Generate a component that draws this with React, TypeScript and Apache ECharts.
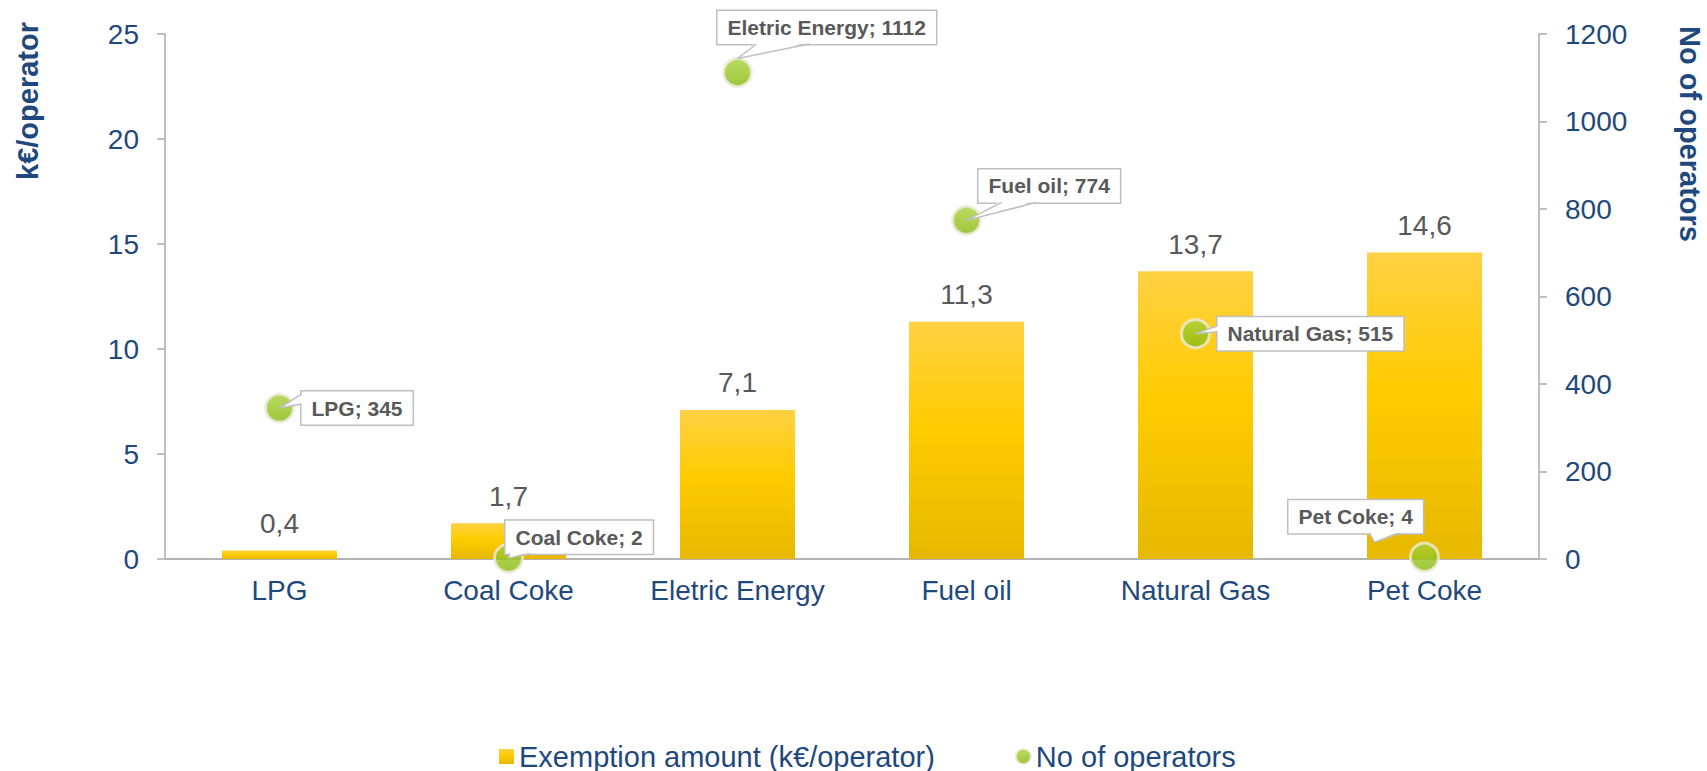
import React, { useEffect, useRef } from "react";
import * as echarts from "echarts";

const categories = ["LPG", "Coal Coke", "Eletric Energy", "Fuel oil", "Natural Gas", "Pet Coke"];
const exemptionAmount = [0.4, 1.7, 7.1, 11.3, 13.7, 14.6];
const operatorCounts = [345, 2, 1112, 774, 515, 4];

const barName = "Exemption amount (k€/operator)";
const scatterName = "No of operators";
const leftAxisTitle = "k€/operator";
const rightAxisTitle = "No of operators";

// callout layout, pixels relative to the point (box left edge, box centre y, tail base, tail apex, inward shift)
const calloutLayout = [
  { bx: 22, by: 0, b1: [22, -14], b2: [22, -4], apex: [0, 0], inw: [2, 0] },
  { bx: -3, by: -21, b1: [1, -4.5], b2: [22, -4.5], apex: [0, 0], inw: [0, -2] },
  { bx: -20, by: -45, b1: [19, -28.5], b2: [72, -28.5], apex: [0, -14], inw: [0, -2] },
  { bx: 12, by: -34.5, b1: [35, -18], b2: [70, -18], apex: [0, 0], inw: [0, -2] },
  { bx: 22, by: 0, b1: [22, -8], b2: [22, -2], apex: [0, 0], inw: [2, 0] },
  { bx: -136, by: -40.5, b1: [-55, -24], b2: [-25, -24], apex: [-50, -15], inw: [0, -2] },
];

const FONT = "'Liberation Sans', Arial, sans-serif";
const BLUE = "#1F497D";
const GRAY_TEXT = "#595959";
const AXIS_GRAY = "#BFBFBF";

export default function App() {
  const ref = useRef<HTMLDivElement>(null);

  useEffect(() => {
    if (!ref.current) return;
    const chart = echarts.init(ref.current, undefined, { renderer: "svg" });

    const barGradient = new echarts.graphic.LinearGradient(0, 0, 0, 1, [
      { offset: 0, color: "#FFD143" },
      { offset: 0.45, color: "#FFCC00" },
      { offset: 1, color: "#E6B800" },
    ]);
    const dotGradient = new echarts.graphic.LinearGradient(0, 0, 0, 1, [
      { offset: 0, color: "#A8D23A" },
      { offset: 1, color: "#86B80A" },
    ]);

    const option: any = {
      animation: false,
      grid: { left: 165, right: 168, top: 34, bottom: 212, containLabel: false },
      legend: {
        left: 499,
        top: 742,
        padding: 0,
        itemWidth: 15,
        itemHeight: 15,
        itemGap: 80,
        textStyle: { fontSize: 29, color: BLUE, fontFamily: FONT },
        data: [
          { name: barName, icon: "rect" },
          { name: scatterName, icon: "circle" },
        ],
      },
      xAxis: {
        type: "category",
        data: categories,
        axisLine: { show: true, lineStyle: { color: "#B3B3B3", width: 2 } },
        axisTick: { show: false },
        axisLabel: { fontSize: 28, color: BLUE, fontFamily: FONT, margin: 17 },
      },
      yAxis: [
        {
          type: "value",
          min: 0,
          max: 25,
          interval: 5,
          position: "left",
          splitLine: { show: false },
          axisLine: { show: true, lineStyle: { color: AXIS_GRAY, width: 2 } },
          axisTick: { show: true, length: 8, lineStyle: { color: AXIS_GRAY, width: 2 } },
          axisLabel: { fontSize: 28, color: BLUE, fontFamily: FONT, margin: 26 },
        },
        {
          type: "value",
          min: 0,
          max: 1200,
          interval: 200,
          position: "right",
          splitLine: { show: false },
          axisLine: { show: true, lineStyle: { color: AXIS_GRAY, width: 2 } },
          axisTick: { show: true, length: 8, lineStyle: { color: AXIS_GRAY, width: 2 } },
          axisLabel: {
            fontSize: 28,
            color: BLUE,
            fontFamily: FONT,
            margin: 26,
            formatter: (v: number) => String(v),
          },
        },
      ],
      graphic: [
        {
          type: "text",
          x: 28,
          y: 101,
          rotation: Math.PI / 2,
          style: {
            text: leftAxisTitle,
            font: `bold 29px ${FONT}`,
            fill: BLUE,
            align: "center",
            verticalAlign: "middle",
          },
        },
        {
          type: "text",
          x: 1690,
          y: 134,
          rotation: -Math.PI / 2,
          style: {
            text: rightAxisTitle,
            font: `bold 29px ${FONT}`,
            fill: BLUE,
            align: "center",
            verticalAlign: "middle",
          },
        },
      ],
      series: [
        {
          name: barName,
          type: "bar",
          yAxisIndex: 0,
          barWidth: 115,
          data: exemptionAmount,
          itemStyle: { color: barGradient },
          label: {
            show: true,
            position: "top",
            distance: 13,
            fontSize: 28,
            color: GRAY_TEXT,
            fontFamily: FONT,
            formatter: (p: any) => String(p.value).replace(".", ","),
          },
          z: 2,
        },
        {
          name: scatterName,
          type: "scatter",
          yAxisIndex: 1,
          data: operatorCounts,
          symbol: "circle",
          symbolSize: 28,
          itemStyle: { color: dotGradient, borderColor: "#EDEBDC", borderWidth: 3 },
          z: 3,
        },
        {
          name: "callouts",
          type: "custom",
          yAxisIndex: 1,
          silent: true,
          clip: false,
          z: 4,
          data: operatorCounts.map((v, i) => [i, v]),
          encode: { x: 0, y: 1 },
          renderItem: (params: any, api: any) => {
            const i = params.dataIndex;
            const pt = api.coord([api.value(0), api.value(1)]);
            const L = calloutLayout[i];
            const ax = pt[0] + L.apex[0];
            const ay = pt[1] + L.apex[1];
            const b1 = [pt[0] + L.b1[0], pt[1] + L.b1[1]];
            const b2 = [pt[0] + L.b2[0], pt[1] + L.b2[1]];
            const b1i = [b1[0] + L.inw[0], b1[1] + L.inw[1]];
            const b2i = [b2[0] + L.inw[0], b2[1] + L.inw[1]];
            return {
              type: "group",
              children: [
                {
                  type: "text",
                  x: pt[0] + L.bx,
                  y: pt[1] + L.by,
                  style: {
                    text: `${categories[i]}; ${operatorCounts[i]}`,
                    font: `bold 21px ${FONT}`,
                    fill: GRAY_TEXT,
                    align: "left",
                    verticalAlign: "middle",
                    lineHeight: 21,
                    backgroundColor: "#FFFFFF",
                    borderColor: AXIS_GRAY,
                    borderWidth: 1.5,
                    padding: [6, 10],
                  },
                },
                {
                  type: "polygon",
                  shape: { points: [[ax, ay], b2i, b1i] },
                  style: { fill: "#FFFFFF", stroke: null },
                },
                {
                  type: "polyline",
                  shape: { points: [b1, [ax, ay], b2] },
                  style: { stroke: AXIS_GRAY, lineWidth: 1.5, fill: null },
                },
              ],
            };
          },
        },
      ],
    };

    chart.setOption(option);
    return () => chart.dispose();
  }, []);

  return (
    <div
      ref={ref}
      style={{ position: "fixed", left: 0, top: 0, width: 1707, height: 771, background: "#fff" }}
    />
  );
}
